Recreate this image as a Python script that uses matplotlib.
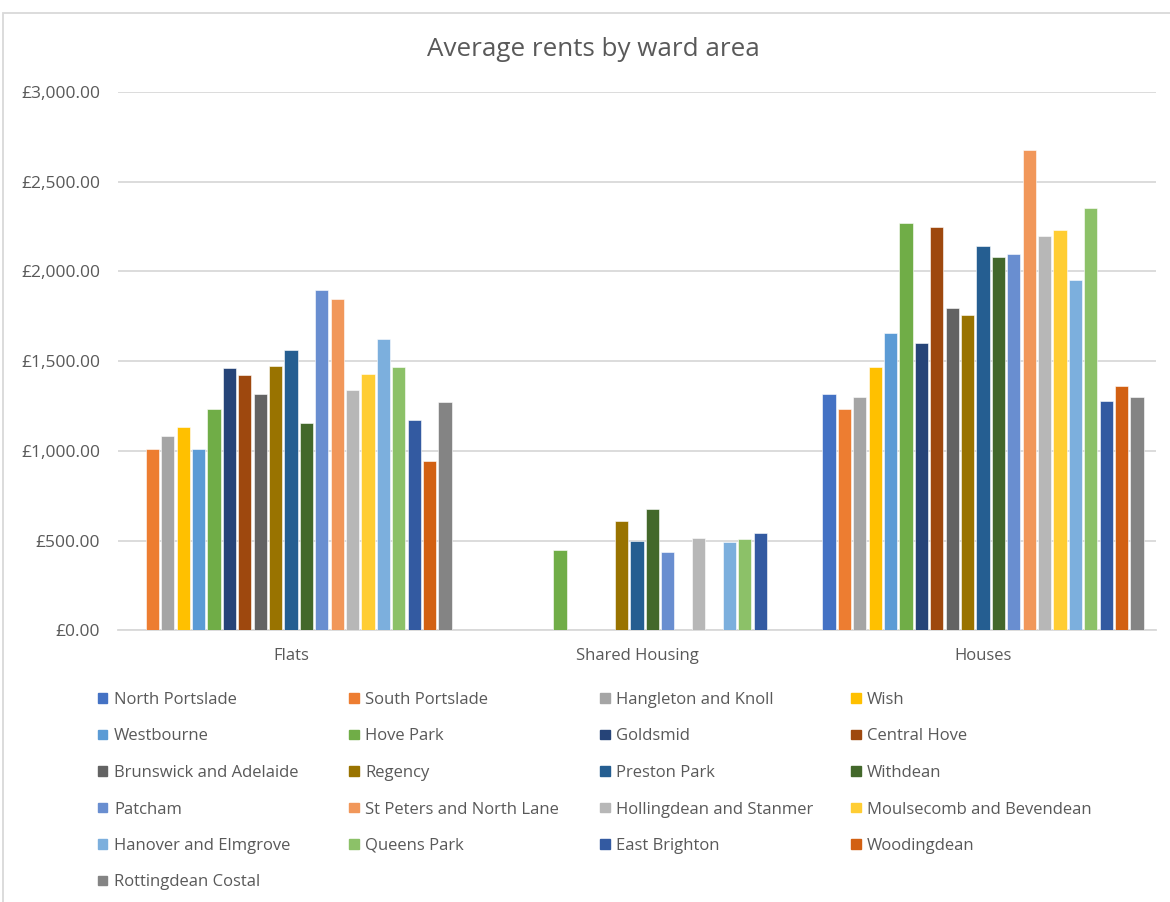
import numpy as np
import matplotlib
matplotlib.use("Agg")
import matplotlib.pyplot as plt
from matplotlib.patches import Rectangle
from matplotlib.ticker import FuncFormatter

plt.rcParams['font.family'] = ['Open Sans', 'DejaVu Sans']

# rent types along the x axis
categories = ["Flats", "Shared Housing", "Houses"]

wards = ["North Portslade", "South Portslade", "Hangleton and Knoll", "Wish",
         "Westbourne", "Hove Park", "Goldsmid", "Central Hove",
         "Brunswick and Adelaide", "Regency", "Preston Park", "Withdean",
         "Patcham", "St Peters and North Lane", "Hollingdean and Stanmer",
         "Moulsecomb and Bevendean", "Hanover and Elmgrove", "Queens Park",
         "East Brighton", "Woodingdean", "Rottingdean Costal"]

nan = np.nan
flats = [nan, 1010, 1085, 1135, 1010, 1235, 1460, 1425, 1320, 1475, 1560,
         1155, 1895, 1845, 1340, 1430, 1625, 1465, 1175, 945, 1275]
shared = [nan, nan, nan, nan, nan, 447, nan, nan, nan, 610, 500,
          675, 436, nan, 515, nan, 490, 510, 540, nan, nan]
houses = [1315, 1235, 1300, 1470, 1655, 2270, 1600, 2250, 1795, 1760, 2140,
          2080, 2100, 2675, 2195, 2230, 1950, 2355, 1280, 1360, 1300]

# excel office palette
colors = ["#4472C4", "#ED7D31", "#A5A5A5", "#FFC000", "#5B9BD5", "#70AD47",
          "#264478", "#9E480E", "#636363", "#997300", "#255E91", "#43682B",
          "#698ED0", "#F1975A", "#B7B7B7", "#FFCD33", "#7CAFDD", "#8CC168",
          "#335AA1", "#D26012", "#848484"]

TEXT = "#595959"
GRID = "#D9D9D9"
W, H = 1170, 902

fig = plt.figure(figsize=(W / 100, H / 100), dpi=100)
# chart border like excel
fig.patches.append(Rectangle((3 / W, -0.01), 1.01, 1 - 13 / H + 0.01,
                             transform=fig.transFigure, fill=False,
                             edgecolor=GRID, linewidth=1.3))

ax = fig.add_axes([118 / W, 1 - 630.4 / H, (1156 - 118) / W, (630.4 - 92) / H])

n = len(wards)
pitch = 0.0445
x = np.arange(len(categories))
for i, ward in enumerate(wards):
    vals = [flats[i], shared[i], houses[i]]
    ax.bar(x + (i - (n - 1) / 2) * pitch, vals, width=pitch * 0.86,
           color=colors[i], edgecolor="white", linewidth=0.4,
           label=ward, zorder=3)

ax.set_xlim(-0.5, 2.5)
ax.set_ylim(0, 3000)
ax.set_yticks(np.arange(0, 3001, 500))
ax.yaxis.set_major_formatter(FuncFormatter(lambda v, p: "£{:,.2f}".format(v)))
ax.set_xticks(x)
ax.set_xticklabels(categories)
ax.grid(axis="y", color=GRID, linewidth=1.3, zorder=0)
ax.tick_params(length=0, colors=TEXT)
ax.tick_params(axis="y", pad=13, labelsize=12.5)
ax.tick_params(axis="x", pad=13, labelsize=12)
for s in ["top", "right", "left"]:
    ax.spines[s].set_visible(False)
ax.spines["bottom"].set_color(GRID)
ax.spines["bottom"].set_linewidth(1.3)

fig.text(593 / W, 1 - 49 / H, "Average rents by ward area", ha="center",
         va="center", fontsize=18.7, color=TEXT)

# legend, excel style: equal width columns filled row by row
ncol = 4
col_w = 251
row_h = 36.5
for i, ward in enumerate(wards):
    r, c = divmod(i, ncol)
    lx = 98 + c * col_w
    ly = 698 + r * row_h
    fig.patches.append(Rectangle((lx / W, 1 - (ly + 4.75) / H), 9.5 / W, 9.5 / H,
                                 transform=fig.transFigure, color=colors[i]))
    fig.text((lx + 16) / W, 1 - ly / H, ward, ha="left", va="center_baseline",
             fontsize=12, color=TEXT)

fig.savefig("out.png", dpi=100)
